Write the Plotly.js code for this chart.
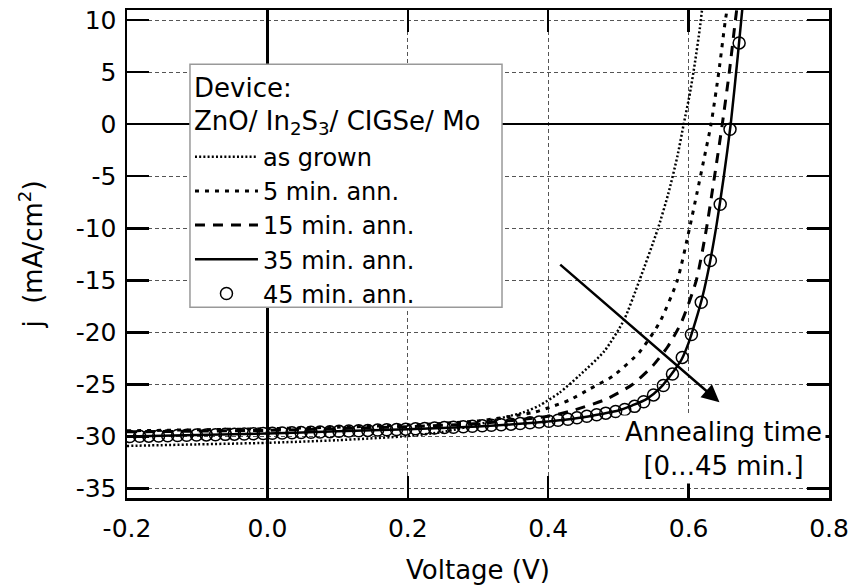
<!DOCTYPE html>
<html><head><meta charset="utf-8">
<script src="https://cdn.plot.ly/plotly-3.0.1.min.js"></script>
<style>html,body{margin:0;padding:0;background:#fff}</style>
</head><body><div id="chart" style="width:852px;height:585px"></div>
<script>
// ---- data ----
const seriesNames = ['as grown', '5 min. ann.', '15 min. ann.', '35 min. ann.', '45 min. ann.'];
const legendHeader = ['Device:', 'ZnO/ In<sub>2</sub>S<sub>3</sub>/ CIGSe/ Mo'];
const arrowLabel = 'Annealing time<br>[0...45 min.]';

const vGrown = [-0.2, -0.1, 0.0, 0.1, 0.2, 0.25, 0.3, 0.34, 0.364, 0.388, 0.416, 0.445, 0.48, 0.508, 0.53, 0.556, 0.571, 0.584, 0.593, 0.602, 0.609, 0.616, 0.620];
const jGrown = [-30.9, -30.75, -30.6, -30.35, -29.95, -29.55, -28.85, -28.1, -27.7, -27.0, -25.8, -24.1, -21.8, -18.8, -15.0, -10.1, -6.7, -3.1, 0.0, 3.0, 5.9, 9.2, 11.5];

const v5 = [-0.2, -0.1, 0.0, 0.1, 0.2, 0.3, 0.378, 0.402, 0.43, 0.46, 0.492, 0.53, 0.559, 0.584, 0.601, 0.612, 0.623, 0.632, 0.643, 0.652, 0.656];
const j5 = [-29.45, -29.35, -29.25, -29.1, -28.9, -28.5, -27.7, -27.2, -26.5, -25.4, -24.2, -21.9, -19.0, -15.0, -10.1, -6.6, -3.0, 0.0, 5.0, 9.8, 11.5];

const v15 = [-0.2, -0.1, 0.0, 0.1, 0.2, 0.3, 0.4, 0.435, 0.483, 0.52, 0.549, 0.57, 0.59, 0.611, 0.625, 0.637, 0.648, 0.658, 0.666, 0.670];
const j15 = [-29.55, -29.48, -29.4, -29.25, -29.05, -28.75, -28.05, -27.5, -26.4, -25.0, -23.2, -21.4, -19.0, -15.0, -10.2, -5.0, 0.0, 5.0, 9.6, 11.8];

const v35 = [-0.2, -0.1, 0.0, 0.1, 0.2, 0.3, 0.35, 0.4, 0.44, 0.48, 0.5, 0.52, 0.54, 0.56, 0.58, 0.59, 0.6, 0.61, 0.62, 0.63, 0.64, 0.65, 0.66, 0.67, 0.68];
const j35 = [-30.0, -29.86, -29.7, -29.5, -29.3, -29.04, -28.83, -28.55, -28.25, -27.78, -27.5, -27.0, -26.4, -25.3, -23.6, -22.6, -21.0, -18.9, -16.5, -13.4, -9.6, -5.1, 0.0, 6.5, 13.5];

const v45 = [-0.196, -0.182, -0.169, -0.155, -0.142, -0.128, -0.115, -0.101, -0.087, -0.074,
             -0.060, -0.047, -0.033, -0.020, -0.006, 0.007, 0.021, 0.035, 0.048, 0.062,
             0.075, 0.089, 0.102, 0.116, 0.130, 0.143, 0.157, 0.170, 0.184, 0.197,
             0.211, 0.224, 0.238, 0.252, 0.265, 0.279, 0.292, 0.306, 0.319, 0.333,
             0.347, 0.360, 0.374, 0.387, 0.401, 0.414, 0.428, 0.441, 0.455, 0.469,
             0.482, 0.496, 0.509, 0.523, 0.536, 0.550, 0.564, 0.577, 0.591, 0.604,
             0.618, 0.631, 0.645, 0.659, 0.672];
const j45 = [-30.0, -29.98, -29.96, -29.94, -29.92, -29.9, -29.88, -29.86, -29.84, -29.82,
             -29.79, -29.77, -29.75, -29.73, -29.71, -29.69, -29.66, -29.64, -29.61, -29.58,
             -29.56, -29.53, -29.5, -29.47, -29.44, -29.41, -29.38, -29.35, -29.32, -29.29,
             -29.25, -29.22, -29.18, -29.14, -29.1, -29.06, -29.02, -28.97, -28.92, -28.87,
             -28.81, -28.75, -28.68, -28.61, -28.53, -28.44, -28.33, -28.2, -28.05, -27.9,
             -27.75, -27.6, -27.4, -27.1, -26.65, -26.0, -25.1, -24.0, -22.4, -20.2,
             -17.1, -13.1, -7.7, -0.5, 7.8];

const xTicks = [-0.2, 0.0, 0.2, 0.4, 0.6, 0.8];
const xTickText = ['-0.2', '0.0', '0.2', '0.4', '0.6', '0.8'];
const yTicks = [-35, -30, -25, -20, -15, -10, -5, 0, 5, 10];
const yTickText = ['-35', '-30', '-25', '-20', '-15', '-10', '-5', '0', '5', '10'];

const arrowFrom = [0.415, -13.37];
const arrowTo = [0.644, -26.7];

// ---- traces ----
const traces = [
  {x: vGrown, y: jGrown, name: seriesNames[0], mode: 'lines',
   line: {color: '#000', width: 2.5, dash: '2px,2.2px', shape: 'spline', smoothing: 0.6}},
  {x: v5, y: j5, name: seriesNames[1], mode: 'lines',
   line: {color: '#000', width: 3, dash: '4px,6px', shape: 'spline', smoothing: 0.6}},
  {x: v15, y: j15, name: seriesNames[2], mode: 'lines',
   line: {color: '#000', width: 3, dash: '10px,8px', shape: 'spline', smoothing: 0.6}},
  {x: v35, y: j35, name: seriesNames[3], mode: 'lines',
   line: {color: '#000', width: 2.5, shape: 'spline', smoothing: 0.6}},
  {x: v45, y: j45, name: seriesNames[4], mode: 'markers',
   marker: {symbol: 'circle-open', size: 12, color: '#000', line: {width: 1.5, color: '#000'}}}
];

const FONT = 'DejaVu Sans';
const axisCommon = {
  ticks: 'inside', ticklen: 22, tickwidth: 2.5, tickcolor: '#000',
  showline: true, linewidth: 2.5, linecolor: '#000', mirror: 'ticks',
  showgrid: true, gridcolor: '#555', gridwidth: 1, griddash: '4px,3px',
  zeroline: true, zerolinecolor: '#000', zerolinewidth: 2.5,
  tickfont: {family: FONT, size: 25, color: '#000'}
};

const layout = {
  width: 852, height: 585,
  margin: {l: 127, r: 23, t: 10, b: 87},
  paper_bgcolor: '#fff', plot_bgcolor: '#fff',
  font: {family: FONT, size: 25, color: '#000'},
  showlegend: true,
  xaxis: Object.assign({}, axisCommon, {
    range: [-0.2, 0.8], tickmode: 'array', tickvals: xTicks, ticktext: xTickText,
    ticklabelstandoff: 6,
    title: {text: 'Voltage (V)', font: {family: FONT, size: 26, color: '#000'}, standoff: 20}
  }),
  yaxis: Object.assign({}, axisCommon, {
    range: [-35.9, 10.96], tickmode: 'array', tickvals: yTicks, ticktext: yTickText,
    ticklabelstandoff: 3,
    title: {text: 'j  (mA/cm<sup>2</sup>)', font: {family: FONT, size: 26, color: '#000'}, standoff: 26}
  }),
  legend: {
    x: 0.0897, y: 0.7447, xanchor: 'left', yanchor: 'top',
    bgcolor: 'rgba(0,0,0,0)', borderwidth: 0,
    font: {family: FONT, size: 24, color: '#000'},
    itemwidth: 63, tracegroupgap: 0
  },
  shapes: [
    // legend frame (white box with grey border)
    {type: 'rect', xref: 'paper', yref: 'paper', x0: 0.0897, x1: 0.5342, y0: 0.391, y1: 0.889,
     fillcolor: '#fff', line: {width: 1.5, color: '#999'}, layer: 'above'},
    // white backing behind the "Annealing time" label
    {type: 'rect', xref: 'x', yref: 'y', x0: 0.502, x1: 0.795, y0: -27.98, y1: -34.5,
     fillcolor: '#fff', line: {width: 0}, layer: 'above'}
  ],
  annotations: [
    {xref: 'paper', yref: 'paper', x: 0.092, y: (497.7 - 88) / 487.7, xanchor: 'left', yanchor: 'middle',
     text: legendHeader[0], showarrow: false, font: {family: FONT, size: 26, color: '#000'}},
    {xref: 'paper', yref: 'paper', x: 0.092, y: (497.7 - 122) / 487.7, xanchor: 'left', yanchor: 'middle',
     text: legendHeader[1], showarrow: false, font: {family: FONT, size: 26, color: '#000'}},
    {xref: 'x', yref: 'y', axref: 'x', ayref: 'y',
     x: arrowTo[0], y: arrowTo[1], ax: arrowFrom[0], ay: arrowFrom[1],
     text: '', showarrow: true, arrowhead: 2, arrowsize: 1.4, arrowwidth: 2.5, arrowcolor: '#000'},
    {xref: 'x', yref: 'y', x: 0.649, y: -31.2, text: arrowLabel,
     showarrow: false, align: 'center', font: {family: FONT, size: 26, color: '#000'}}
  ]
};

Plotly.newPlot('chart', traces, layout, {displayModeBar: false, staticPlot: true});
</script></body></html>
